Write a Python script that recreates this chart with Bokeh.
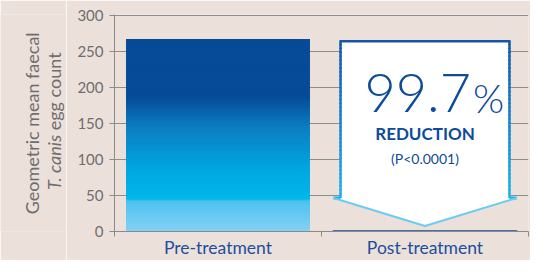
import math
from bokeh.plotting import figure
from bokeh.models import Range1d, FixedTicker, Label
from bokeh.layouts import row
from bokeh.embed import file_html
from bokeh.resources import INLINE

# ---- data ----
categories = ["Pre-treatment", "Post-treatment"]
egg_counts = [267.0, 0.8]
y_ticks = [0, 50, 100, 150, 200, 250, 300]
y_title_line1 = "Geometric mean faecal"
y_title_italic = "T. canis"
y_title_rest = "egg count"
reduction_word = "REDUCTION"
p_value_text = "(P<0.0001)"

# ---- styles ----
BG = "#ece0db"
GRID = "#8e8e8e"
AXIS = "#8a8a8a"
TICK_TXT = "#6e6e6e"
DARK = "#0d4b9b"
BAR_W = 0.888
TITLE_W = 66
TOP_B, BOT_B = 14, 28

pre, post = egg_counts
reduction = (pre - post) / pre * 100.0

centers = [i + 0.5 for i in range(len(categories))]

p = figure(width=530 - TITLE_W, height=260, x_range=Range1d(0, len(categories)), y_range=Range1d(0, 301),
           output_backend="svg", toolbar_location=None,
           min_border_left=114 - TITLE_W, min_border_right=2, min_border_top=TOP_B, min_border_bottom=24,
           background_fill_color=BG, border_fill_color=BG, outline_line_color=None)

# axes
xa = p.xaxis[0]
xa.ticker = FixedTicker(ticks=centers, minor_ticks=[float(i) for i in range(len(categories) + 1)])
xa.major_label_overrides = {c: name for c, name in zip(centers, categories)}
xa.major_tick_out = 0
xa.major_tick_in = 0
xa.minor_tick_out = 5
xa.minor_tick_in = 0
xa.minor_tick_line_color = AXIS
xa.axis_line_color = AXIS
xa.major_label_text_color = "#1a4f9c"
xa.major_label_text_font = "Lato"
xa.major_label_text_font_size = "17.5px"
xa.major_label_standoff = 0

ya = p.yaxis[0]
ya.ticker = FixedTicker(ticks=y_ticks)
ya.major_tick_out = 5
ya.major_tick_in = 0
ya.minor_tick_line_color = None
ya.axis_line_color = AXIS
ya.major_tick_line_color = AXIS
ya.major_label_text_color = TICK_TXT
ya.major_label_text_font = "Lato"
ya.major_label_text_font_size = "15px"
ya.major_label_standoff = 6

p.xgrid.visible = False
p.ygrid.ticker = FixedTicker(ticks=y_ticks)
p.ygrid.grid_line_color = GRID
p.ygrid.grid_line_width = 1


def hex2rgb(h):
    h = h.lstrip("#")
    return tuple(int(h[i:i + 2], 16) for i in (0, 2, 4))


def interp(stops, f):
    for (f0, c0), (f1, c1) in zip(stops, stops[1:]):
        if f0 <= f <= f1:
            t = 0 if f1 == f0 else (f - f0) / (f1 - f0)
            a, b = hex2rgb(c0), hex2rgb(c1)
            return "#%02x%02x%02x" % tuple(int(round(a[k] + (b[k] - a[k]) * t)) for k in range(3))
    return stops[-1][1]


# gradient for pre-treatment bar (fraction of bar height -> colour)
bar_stops = [(0.0, "#86d0f4"), (0.158, "#4cc3ef"), (0.168, "#00b8eb"), (0.34, "#00a3df"),
             (0.537, "#0b7fc3"), (0.70, "#064b97"), (1.0, "#064b97")]
N = 160
lefts, rights, bottoms, tops, cols = [], [], [], [], []
for i in range(N):
    b = pre * i / N
    t = pre * min(i + 2, N) / N  # overlap into next strip to hide seams
    lefts.append(centers[0] - BAR_W / 2)
    rights.append(centers[0] + BAR_W / 2)
    bottoms.append(b)
    tops.append(t)
    cols.append(interp(bar_stops, (i + 0.5) / N))
p.quad(left=lefts, right=rights, bottom=bottoms, top=tops, fill_color=cols, line_color=None)

# post-treatment bar
p.vbar(x=[centers[1]], width=BAR_W, top=[post], bottom=0, fill_color=DARK, line_color=DARK, line_width=1.4)

# callout arrow over post-treatment
cx = centers[1]
hw_in, hw_out = 0.408, 0.442
top_y = pre - 3
side_bot = 46.4
tip_y = 7.7
p.patch([cx - hw_in, cx + hw_in, cx + hw_in, cx + hw_out, cx, cx - hw_out, cx - hw_in],
        [top_y, top_y, side_bot, side_bot, tip_y, side_bot, side_bot],
        fill_color="white", line_color=None)
side_stops = [(0.0, "#1cb6ec"), (0.35, "#1a8fd6"), (1.0, "#1457a8")]
M = 40
sx0, sy0, sx1, sy1, scol = [], [], [], [], []
for side in (-1, 1):
    for i in range(M):
        y0 = side_bot + (top_y - side_bot) * i / M
        y1 = side_bot + (top_y - side_bot) * (i + 1.3) / M
        sx0.append(cx + side * hw_in)
        sx1.append(cx + side * hw_in)
        sy0.append(y0)
        sy1.append(min(y1, top_y))
        scol.append(interp(side_stops, (i + 0.5) / M))
p.segment(x0=sx0, y0=sy0, x1=sx1, y1=sy1, line_color=scol, line_width=2.5)
p.line([cx - hw_in - 0.005, cx + hw_in + 0.005], [top_y, top_y], line_color="#1457a8", line_width=2.5)
p.segment(x0=[cx - hw_out, cx + hw_in], y0=[side_bot, side_bot], x1=[cx - hw_in, cx + hw_out], y1=[side_bot, side_bot],
          line_color="#12b5ec", line_width=3)
p.line([cx - hw_out, cx, cx + hw_out], [side_bot, tip_y, side_bot], line_color="#6ccbf2", line_width=2)

# callout texts
p.add_layout(Label(x=cx + 0.222, y=192.5, text="%.1f" % reduction, text_align="right", text_baseline="middle",
                   text_font="'Lato Light', Lato", text_font_size="54px", text_color=DARK))
p.add_layout(Label(x=cx + 0.232, y=185.5, text="%", text_align="left", text_baseline="middle",
                   text_font="'Lato Light', Lato", text_font_size="40px", text_color=DARK))
p.add_layout(Label(x=cx, y=135.8, text=reduction_word, text_align="center", text_baseline="middle",
                   text_font="Lato", text_font_style="bold", text_font_size="17px", text_color=DARK))
p.add_layout(Label(x=cx, y=101.7, text=p_value_text, text_align="center", text_baseline="middle",
                   text_font="Lato", text_font_size="14px", text_color=DARK))

# y-axis title (two lines, partly italic) in a narrow companion figure on the left
tf = figure(width=TITLE_W, height=260, x_range=Range1d(0, TITLE_W), y_range=Range1d(0, 301),
            output_backend="svg", toolbar_location=None, x_axis_location=None, y_axis_location=None,
            min_border_left=0, min_border_right=0, min_border_top=TOP_B, min_border_bottom=BOT_B,
            background_fill_color=BG, border_fill_color=BG, outline_line_color=None)
tf.grid.visible = False
tf.add_layout(Label(x=31, y=150, text=y_title_line1, angle=math.pi / 2, text_align="center",
                    text_baseline="middle", text_font="Lato", text_font_size="18px", text_color=TICK_TXT))
tf.add_layout(Label(x=53, y=134, text=y_title_italic, angle=math.pi / 2, text_align="right",
                    text_baseline="middle", text_font="Lato", text_font_style="italic", text_font_size="18px",
                    text_color=TICK_TXT))
tf.add_layout(Label(x=53, y=140.5, text=y_title_rest, angle=math.pi / 2, text_align="left",
                    text_baseline="middle", text_font="Lato", text_font_size="18px", text_color=TICK_TXT))

layout = row(tf, p, spacing=0)
open("out.html", "w").write(file_html(layout, INLINE))
